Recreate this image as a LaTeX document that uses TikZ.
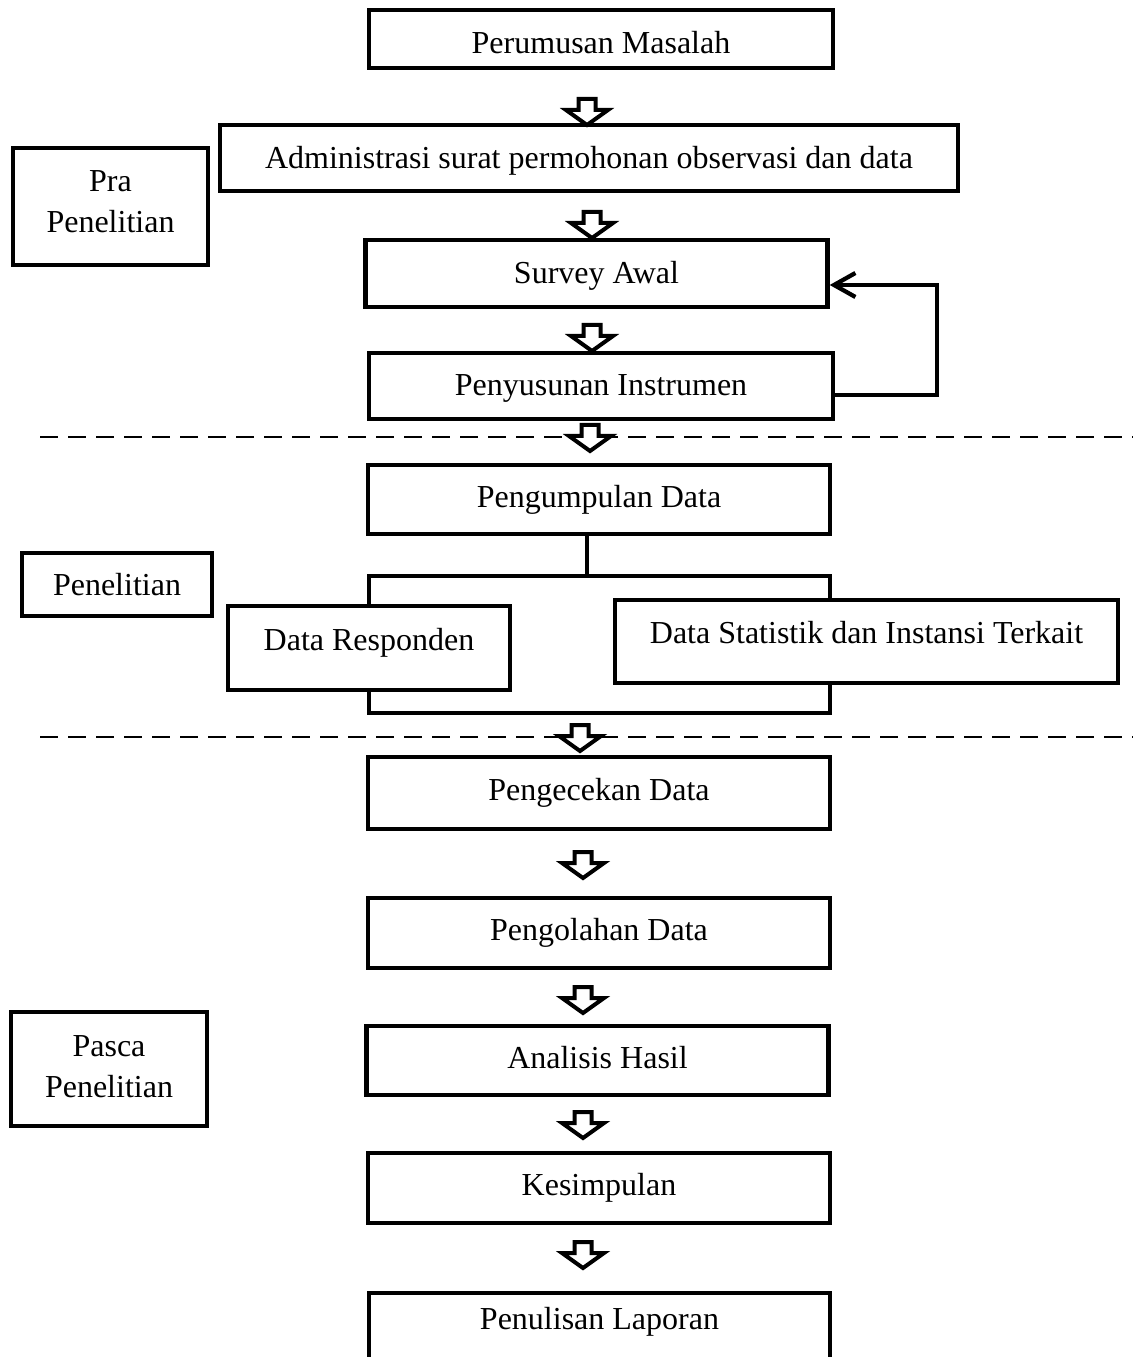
\documentclass[tikz,border=0pt]{standalone}
\usepackage{fontspec}
\setmainfont{Liberation Serif}
\usetikzlibrary{arrows.meta, positioning}
\newcommand{\boxfont}{\fontsize{12pt}{15.4pt}\selectfont}

\begin{document}
\begin{tikzpicture}[x=0.375pt, y=-0.375pt,
    frame/.style={draw, line width=1.6pt, inner sep=0pt, align=center, font=\boxfont},
    box/.style={frame, minimum width=173.3pt, minimum height=26pt,
                text height=8.4pt, text depth=2.6pt},
    side/.style={frame, minimum width=73pt},
    lift/.style={text depth=#1},
    drop/.style={text height=#1},
    branch/.style={line width=1.2pt},
    back/.style={line width=1.6pt, -{Straight Barb[length=8pt, width=9pt]}},
    phase/.style={line width=0.6pt, dash pattern=on 6.75pt off 3.75pt},
    hollow/.pic={\draw[line width=1.5pt, fill=white] (-8.5,2) -- (8.5,2) -- (8.5,13)
                 -- (21,13) -- (0,28) -- (-21,13) -- (-8.5,13) -- cycle;}
  ]
  \useasboundingbox (0,0) rectangle (1133,1357);

  % pra penelitian
  \node[box, drop=13.6pt, minimum width=174pt, minimum height=21.75pt] (pm) at (601,39) {Perumusan Masalah};
  \node[box, drop=10.6pt, minimum width=276.75pt, minimum height=24.75pt] (adm) at (589,158) {Administrasi surat permohonan observasi dan data};
  \node[box, drop=9.9pt, minimum height=25.1pt] (sa) at (596.5,273.5) {Survey Awal};
  \node[box, drop=9.9pt, minimum width=174pt, minimum height=24.75pt] (pi) at (601,386) {Penyusunan Instrumen};
  \node[side, text height=23.3pt, text depth=4pt, minimum height=43.9pt] (pra) at (110.5,206.5) {Pra\\Penelitian};

  % penelitian
  \node[box, minimum height=25.9pt] (pd) at (599,499.5) {Pengumpulan Data};
  \node[box, lift=6.4pt, minimum width=105.75pt, minimum height=31.5pt] (dr) at (369,648) {Data Responden};
  \node[box, lift=7.2pt, minimum width=188.6pt, minimum height=31.1pt] (ds) at (866.5,641.5) {Data Statistik dan Instansi Terkait};
  \node[side, minimum width=71.25pt, minimum height=23.6pt] (pen) at (117,584.5) {Penelitian};

  % pasca penelitian
  \node[box, minimum height=27pt] (pc) at (599,793) {Pengecekan Data};
  \node[box, minimum height=26.25pt] (po) at (599,933) {Pengolahan Data};
  \node[box, minimum height=25.9pt] (ah) at (597.5,1060.5) {Analisis Hasil};
  \node[box, minimum height=26.25pt] (ks) at (599,1188) {Kesimpulan};
  \node[box, lift=7.2pt, minimum width=172.9pt, minimum height=26.25pt] (pl) at (599.5,1328) {Penulisan Laporan};
  \node[side, text height=23.3pt, text depth=2.2pt, minimum width=73.5pt, minimum height=42.75pt] (pasca) at (109,1069) {Pasca\\Penelitian};

  % batas tahap
  \coordinate (d1l) at (40,437);  \coordinate (d1r) at (1133,437);
  \coordinate (d2l) at (40,737);  \coordinate (d2r) at (1133,737);
  \draw[phase] (d1l) -- (d1r);
  \draw[phase] (d2l) -- (d2r);

  % panah blok
  \pic at (587,97) {hollow};
  \pic at (592,210) {hollow};
  \pic at (592,323) {hollow};
  \pic at (590,423) {hollow};
  \pic at (580,723) {hollow};
  \pic at (583,850) {hollow};
  \pic at (583,985) {hollow};
  \pic at (583,1110) {hollow};
  \pic at (583,1240) {hollow};

  % umpan balik
  \coordinate (rb) at (937,395);
  \coordinate (rt) at (937,285);
  \draw[back] (pi.east |- rb) -- (rb) -- (rt) -- (sa.east |- rt);

  % cabang data
  \coordinate (jm) at (587,576);
  \coordinate (jl) at (369,576);
  \coordinate (jr) at (830,576);
  \coordinate (bl) at (369,713);
  \coordinate (br) at (830,713);
  \draw[branch] (pd.south -| jm) -- (jm);
  \draw[branch] (dr.north -| jl) -- (jl) -- (jr) -- (ds.north -| jr);
  \draw[branch] (dr.south -| bl) -- (bl) -- (br) -- (ds.south -| br);
\end{tikzpicture}
\end{document}
